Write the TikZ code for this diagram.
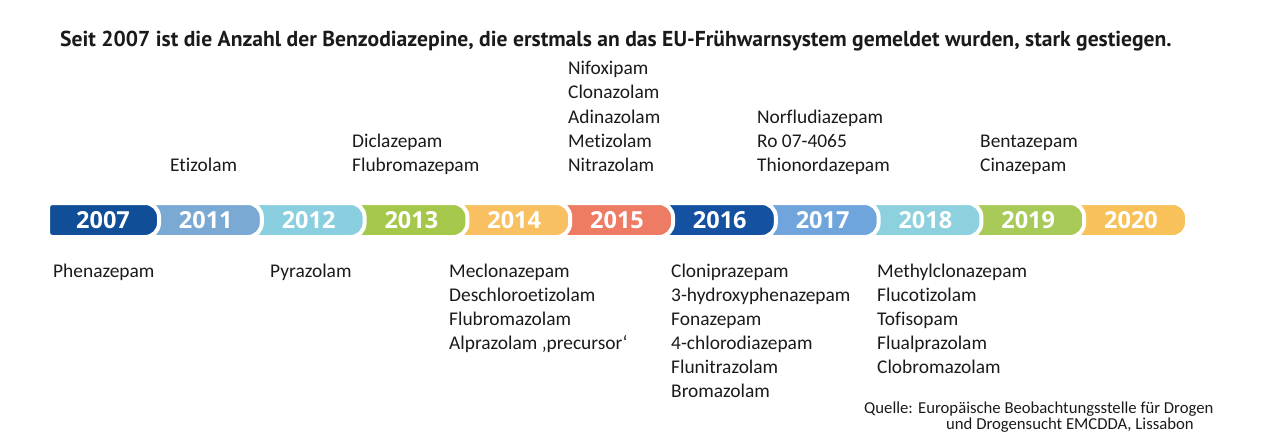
\documentclass[tikz,border=0pt]{standalone}
\usepackage{fontspec}
\setmainfont{Carlito}[Ligatures=NoCommon]
\newfontfamily\titlefont{PT Sans}
\newfontfamily\yearfont{Open Sans}
\definecolor{ctext}{HTML}{1A1A1A}
\definecolor{c2007}{HTML}{104E97}
\definecolor{c2011}{HTML}{7AAAD3}
\definecolor{c2012}{HTML}{8ACFE0}
\definecolor{c2013}{HTML}{A5C84A}
\definecolor{c2014}{HTML}{F9C062}
\definecolor{c2015}{HTML}{EE7B63}
\definecolor{c2016}{HTML}{1452A1}
\definecolor{c2017}{HTML}{6FA5DC}
\definecolor{c2018}{HTML}{8CD1DD}
\definecolor{c2019}{HTML}{A8CA58}
\definecolor{c2020}{HTML}{F8C159}
\tikzset{
  lbl/.style={anchor=base west, inner sep=0pt, text=ctext, font=\fontsize{19.4}{24}\selectfont},
  yearlbl/.style={anchor=base, inner sep=0pt, text=white, font=\yearfont\bfseries\fontsize{23.5}{24}\selectfont},
  seg/.style={draw=white, line width=4pt},
  src/.style={anchor=base west, inner sep=0pt, text=ctext, font=\fontsize{16.7}{16}\selectfont},
}
\begin{document}
\begin{tikzpicture}[x=1pt,y=-1pt]
\useasboundingbox (0,0) rectangle (1262,444);
% title
\node[anchor=base west, inner sep=0pt, text=ctext, font=\titlefont\bfseries\fontsize{21.6}{24}\selectfont] (title) at (60,47)
  {Seit 2007 ist die Anzahl der Benzodiazepine, die erstmals an das EU-Frühwarnsystem gemeldet wurden, stark gestiegen.};
% timeline segments, drawn right to left
\foreach \i/\c/\y in {10/c2020/2020, 9/c2019/2019, 8/c2018/2018, 7/c2017/2017, 6/c2016/2016, 5/c2015/2015, 4/c2014/2014, 3/c2013/2013, 2/c2012/2012, 1/c2011/2011}{
  \pgfmathsetmacro\R{159+102.8*\i}
  \pgfmathsetmacro\L{\R-125}
  \draw[seg, fill=\c] (\L,237) -- (\L,203) -- (\R-14,203) arc[start angle=-90, end angle=0, radius=14] -- (\R,223) arc[start angle=0, end angle=90, radius=14] -- cycle;
  \node[yearlbl] (y\y) at (\R-56,228.5) {\y};
}
\draw[seg, fill=c2007] (52,237) arc[start angle=90, end angle=180, radius=4] -- (48,207) arc[start angle=180, end angle=270, radius=4] -- (145,203) arc[start angle=-90, end angle=0, radius=14] -- (159,223) arc[start angle=0, end angle=90, radius=14] -- cycle;
\node[yearlbl] (y2007) at (103,228.5) {2007};
% labels above
\node[lbl] (a2011-1) at (170,171) {Etizolam};
\foreach \t [count=\k] in {Diclazepam, Flubromazepam}
  \node[lbl] (a2013-\k) at (352,147+24*\k-24) {\t};
\foreach \t [count=\k] in {Nifoxipam, Clonazolam, Adinazolam, Metizolam, Nitrazolam}
  \node[lbl] (a2015-\k) at (568,75+24*\k-24) {\t};
\foreach \t [count=\k] in {Norfludiazepam, Ro 07-4065, Thionordazepam}
  \node[lbl] (a2017-\k) at (757,123+24*\k-24) {\t};
\foreach \t [count=\k] in {Bentazepam, Cinazepam}
  \node[lbl] (a2019-\k) at (980,147+24*\k-24) {\t};
% labels below
\node[lbl] (b2007-1) at (53,277) {Phenazepam};
\node[lbl] (b2012-1) at (270,277) {Pyrazolam};
\foreach \t [count=\k] in {Meclonazepam, Deschloroetizolam, Flubromazolam, {Alprazolam ‚precursor‘}}
  \node[lbl] (b2014-\k) at (449,277+24*\k-24) {\t};
\foreach \t [count=\k] in {Cloniprazepam, 3-hydroxyphenazepam, Fonazepam, 4-chlorodiazepam, Flunitrazolam, Bromazolam}
  \node[lbl] (b2016-\k) at (671,277+24*\k-24) {\t};
\foreach \t [count=\k] in {Methylclonazepam, Flucotizolam, Tofisopam, Flualprazolam, Clobromazolam}
  \node[lbl] (b2018-\k) at (877,277+24*\k-24) {\t};
% source
\node[src] (q1) at (864,413) {Quelle:};
\node[src] (q2) at (918,413) {Europäische Beobachtungsstelle für Drogen};
\node[src] (q3) at (946,429) {und Drogensucht EMCDDA, Lissabon};
\end{tikzpicture}
\end{document}
